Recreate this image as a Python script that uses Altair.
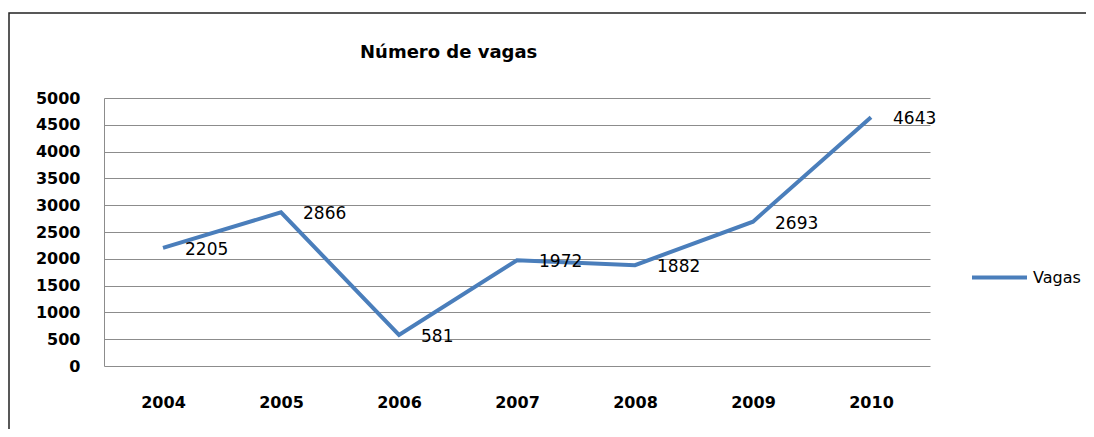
import altair as alt
import pandas as pd

years = ["2004", "2005", "2006", "2007", "2008", "2009", "2010"]
vagas = [2205, 2866, 581, 1972, 1882, 2693, 4643]
series = ["Vagas"] * len(years)
y_ticks = [0, 500, 1000, 1500, 2000, 2500, 3000, 3500, 4000, 4500, 5000]
title_text = "Número de vagas"

df = pd.DataFrame({"Ano": years, "Valor": vagas, "Serie": series})

FONT = "DejaVu Sans"
BLUE = "#4a7ebb"
GRID = "#8c8c8c"

x_enc = alt.X("Ano:O", sort=years,
              scale=alt.Scale(type="point", padding=0.5),
              axis=alt.Axis(title=None, labelAngle=0, ticks=False, domain=False,
                            labelFont=FONT, labelFontSize=16, labelFontWeight="bold",
                            labelColor="#000000",
                            labelBaseline="middle", labelPadding=36, grid=False))
y_enc = alt.Y("Valor:Q",
              scale=alt.Scale(domain=[0, 5000], nice=False),
              axis=alt.Axis(title=None, values=y_ticks, tickCount=11, ticks=False, format="d",
                            labelOverlap=False,
                            domainColor=GRID, domainWidth=1,
                            grid=True, gridColor=GRID, gridWidth=1,
                            labelFont=FONT, labelFontSize=16, labelFontWeight="bold",
                            labelColor="#000000", labelPadding=24))

base = alt.Chart(df)

line = base.mark_line(strokeWidth=4, color=BLUE).encode(
    x=x_enc, y=y_enc,
    color=alt.Color("Serie:N", scale=alt.Scale(range=[BLUE]),
                    legend=alt.Legend(title=None, orient="none", legendX=866, legendY=150,
                                      symbolType="stroke", symbolSize=3025,
                                      symbolStrokeWidth=4, labelFont=FONT,
                                      labelFontSize=16, labelColor="#000000",
                                      labelOffset=4, padding=0)),
)

labels = base.mark_text(align="left", baseline="middle", dx=22, dy=2,
                        font=FONT, fontSize=17, color="#000000").encode(
    x=x_enc, y=y_enc, text=alt.Text("Valor:Q"))

title = alt.Chart(pd.DataFrame({"t": [title_text]})).mark_text(
    align="left", baseline="alphabetic", font=FONT, fontSize=18,
    fontWeight="bold", color="#000000").encode(
    x=alt.value(256), y=alt.value(-40), text="t:N")

border = alt.Chart(pd.DataFrame({"b": [1]})).mark_rect(
    filled=False, stroke="#222222", strokeWidth=1.5).encode(
    x=alt.value(-95), x2=alt.value(1100), y=alt.value(-85), y2=alt.value(420))

chart = alt.layer(line, labels, title, border).properties(
    width=826, height=268,
    background="white",
    autosize=alt.AutoSizeParams(type="none"),
    padding={"left": 96, "top": 90, "right": 156, "bottom": 63},
).configure_view(strokeWidth=0, stroke="transparent")

chart.save("out.html", embed_options={"renderer": "svg", "actions": False})
